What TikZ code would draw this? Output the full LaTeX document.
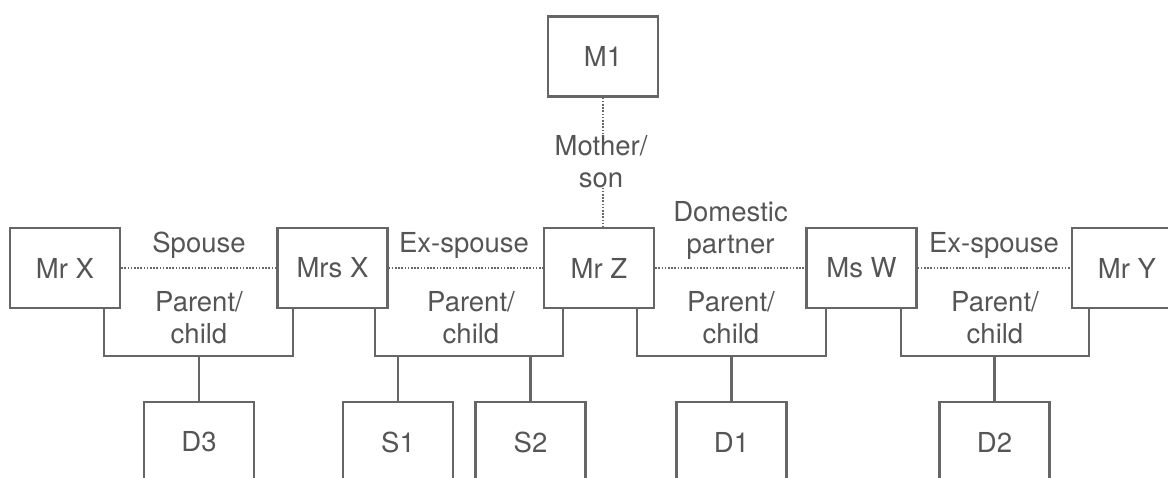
\documentclass[tikz,border=0pt]{standalone}
\usepackage{fontspec}
\setmainfont{TeX Gyre Heros}
\definecolor{linegray}{RGB}{102,102,102}
\definecolor{textgray}{RGB}{85,85,85}
\begin{document}
\begin{tikzpicture}[x=1pt,y=-1pt,
  font=\fontsize{27.5pt}{32pt}\selectfont,
  person/.style={draw=linegray, line width=2.2pt, minimum width=110pt,
    minimum height=80pt, inner sep=0pt, text=textgray},
  rel/.style={draw=linegray, line width=1.6pt, dash pattern=on 1.6pt off 1.6pt},
  kin/.style={draw=linegray, line width=2.2pt},
  lbl/.style={text=textgray, align=center, inner sep=0pt, anchor=base},
]
\useasboundingbox (0,0) rectangle (1168,477);
\clip (0,0) rectangle (1168,477);

% people
\node[person] (m1)   at (603,56.5) {M1};
\node[person] (mrx)  at (65,268)   {Mr X};
\node[person] (mrsx) at (332.5,268) {Mrs X};
\node[person] (mrz)  at (599,268)  {Mr Z};
\node[person] (msw)  at (861.5,268) {Ms W};
\node[person] (mry)  at (1127,268) {Mr Y};

% children
\node[person] (d3) at (199,442)   {D3};
\node[person] (s1) at (398,442)   {S1};
\node[person] (s2) at (530.5,442) {S2};
\node[person] (d1) at (731.5,442) {D1};
\node[person] (d2) at (994.5,442) {D2};

% relationship labels (base = baseline of the last line)
\node[lbl] (lms)  at (601,187) {Mother/\\son};
\node[lbl] (lsp)  at (199,252) {Spouse};
\node[lbl] (lex1) at (464,252) {Ex-spouse};
\node[lbl] (ldp)  at (730.5,253) {Domestic\\partner};
\node[lbl] (lex2) at (994,252) {Ex-spouse};
\node[lbl] (lpc1) at (199,343) {Parent/\\child};
\node[lbl] (lpc2) at (471,343) {Parent/\\child};
\node[lbl] (lpc3) at (731,343) {Parent/\\child};
\node[lbl] (lpc4) at (995,343) {Parent/\\child};

% dotted relationship lines
\draw[rel] (m1.south) -- (m1.south |- lms.north);
\draw[rel] (m1.south |- lms.south) -- (m1.south |- mrz.north);
\draw[rel] (mrx.east) -- (mrsx.west);
\draw[rel] (mrsx.east) -- (mrz.west);
\draw[rel] (mrz.east) -- (msw.west);
\draw[rel] (msw.east) -- (mry.west);

% family bars
\coordinate (bar1) at (199,356);
\coordinate (bar2) at (469,356);
\coordinate (bar3) at (731.5,356);
\coordinate (bar4) at (994.5,356);

\draw[kin] ([xshift=39pt]mrx.south) |- (bar1) -| ([xshift=-39.5pt]mrsx.south);
\draw[kin] (bar1) -- (d3.north);

\draw[kin] ([xshift=42.5pt]mrsx.south) |- (bar2) -| ([xshift=-36pt]mrz.south);
\draw[kin] (s1.north) -- (s1.north |- bar2);
\draw[kin] (s2.north) -- (s2.north |- bar2);

\draw[kin] ([xshift=38pt]mrz.south) |- (bar3) -| ([xshift=-35.5pt]msw.south);
\draw[kin] (bar3) -- (d1.north);

\draw[kin] ([xshift=39.5pt]msw.south) |- (bar4) -| ([xshift=-38pt]mry.south);
\draw[kin] (bar4) -- (d2.north);
\end{tikzpicture}
\end{document}
